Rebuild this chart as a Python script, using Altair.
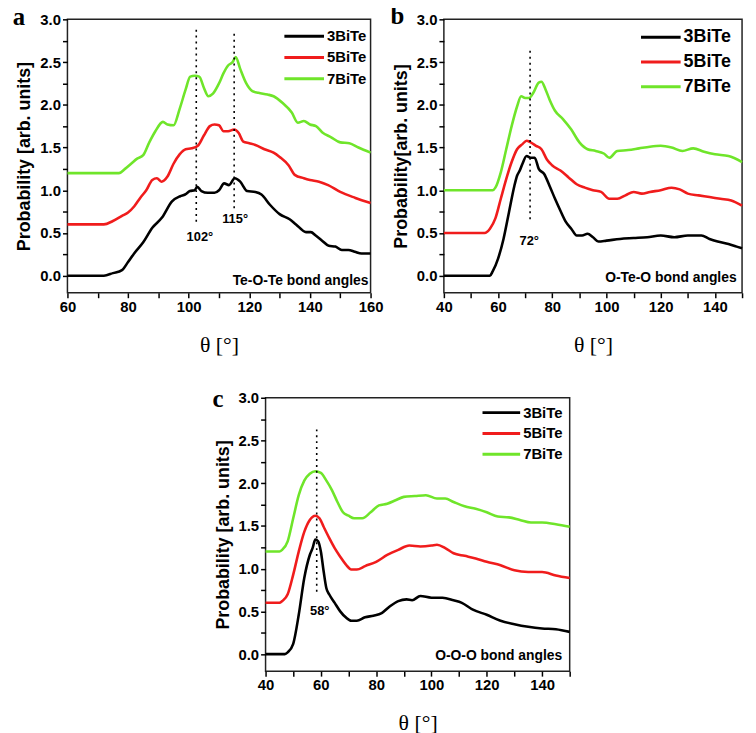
import altair as alt
import pandas as pd

SERIES = ["3BiTe", "5BiTe", "7BiTe"]
COLORS = ["#000000", "#f01c1c", "#6fe52a"]
SANS = "Liberation Sans"
SERIF = "Liberation Serif"

# ---------------- panel a : Te-O-Te ----------------
A3_X = [60,72,75,78,80,82,85,88,91.2,94.5,97.2,98.8,100.4,102,102.8,104.2,106.3,108.5,110,111.7,113.3,115.2,117,119.3,122,124,126.8,130,133.3,135.4,138.7,140.3,141.9,144,146.2,148.4,150.5,152.7,154.8,157,160]
A3_Y = [0,0,0.03,0.065,0.16,0.26,0.39,0.56,0.68,0.87,0.93,0.95,0.99,1.0,1.04,0.99,0.97,0.97,1.0,1.08,1.06,1.14,1.10,0.99,0.98,0.95,0.83,0.72,0.66,0.60,0.51,0.51,0.47,0.41,0.35,0.34,0.30,0.30,0.28,0.26,0.26]
A5_X = [60,72,75,78,80,82,84,86,88,89.5,91,93,95,97,99,101,103,105,107,108.5,110,111.5,113,115,116.5,118,120,122,125,128,130,133,135,138,140,143,146,150,155,160]
A5_Y = [0.6,0.6,0.64,0.70,0.74,0.81,0.91,1.0,1.12,1.14,1.10,1.16,1.31,1.42,1.48,1.49,1.52,1.64,1.75,1.77,1.76,1.69,1.69,1.71,1.67,1.57,1.55,1.53,1.48,1.44,1.39,1.29,1.18,1.14,1.12,1.10,1.06,0.98,0.91,0.85]
A7_X = [60,77,79,81,83,85,87,89,91.5,93,95,97,99,100.5,102,103.5,105,106.5,108,110,111.5,113,114.5,115.5,117,119,121,123,126,128,131,134,136,138,140,142,144,147,150,153,156,160]
A7_Y = [1.2,1.2,1.25,1.31,1.37,1.41,1.56,1.69,1.80,1.77,1.76,1.95,2.18,2.33,2.34,2.33,2.20,2.10,2.13,2.25,2.37,2.46,2.50,2.56,2.42,2.25,2.16,2.14,2.12,2.10,2.02,1.91,1.79,1.81,1.77,1.75,1.68,1.62,1.56,1.55,1.50,1.44]

# ---------------- panel b : O-Te-O ----------------
B3_X = [40,57,58,60,62,64,66,67,68,69,70.5,72,73.5,75,77,79,81,83,85,87,89,91,93,95,97,100,105,110,115,120,125,130,135,138,141,145,148,150]
B3_Y = [0,0,0.05,0.2,0.43,0.74,1.05,1.17,1.23,1.31,1.40,1.38,1.38,1.25,1.19,1.05,0.90,0.76,0.63,0.55,0.47,0.47,0.49,0.45,0.40,0.41,0.43,0.44,0.45,0.47,0.45,0.47,0.47,0.43,0.40,0.37,0.34,0.32]
B5_X = [40,55,57,59,61,63,65,67,69,70.5,72,74,76,78,80,83,86,89,92,95,98,101,104,107,110,113,116,120,124,127,130,134,138,142,146,150]
B5_Y = [0.5,0.5,0.55,0.67,0.9,1.13,1.33,1.48,1.54,1.58,1.56,1.52,1.48,1.36,1.29,1.23,1.15,1.07,1.03,1.00,0.98,0.90,0.90,0.94,0.98,0.96,0.98,1.00,1.03,1.01,0.96,0.94,0.92,0.90,0.88,0.82]
B7_X = [40,58,59,61,63,65,67,68.5,70,71.5,73,75,76,77.5,79,81,84,87,90,93,96,99,101,104,108,112,116,120,124,128,132,136,140,145,150]
B7_Y = [1.0,1.0,1.03,1.21,1.48,1.75,1.98,2.10,2.08,2.08,2.14,2.26,2.27,2.18,2.06,1.93,1.83,1.71,1.56,1.48,1.46,1.43,1.38,1.46,1.47,1.49,1.51,1.52,1.50,1.46,1.49,1.45,1.42,1.40,1.33]

# ---------------- panel c : O-O-O ----------------
C3_X = [40,47,48,50,52,54,56,57,58,59,60,61,62,63,65,67,69,71,73,76,79,82,85,88,91,93,96,100,104,108,111,115,120,125,130,135,140,145,150]
C3_Y = [0,0,0.02,0.12,0.46,0.89,1.16,1.24,1.34,1.32,1.20,0.97,0.77,0.70,0.60,0.50,0.43,0.39,0.39,0.43,0.45,0.48,0.56,0.62,0.64,0.63,0.68,0.66,0.66,0.63,0.60,0.52,0.46,0.39,0.35,0.32,0.30,0.29,0.26]
C5_X = [40,45,46,48,50,52,54,56,58,59.5,61,63,65,67,69,71,73,76,80,84,88,92,96,100,102,105,108,112,116,120,125,130,135,140,145,150]
C5_Y = [0.6,0.6,0.62,0.70,0.93,1.20,1.43,1.57,1.62,1.59,1.49,1.36,1.24,1.14,1.05,0.99,0.99,1.03,1.08,1.16,1.22,1.27,1.26,1.27,1.28,1.24,1.18,1.15,1.12,1.08,1.04,0.98,0.96,0.96,0.92,0.89]
C7_X = [40,45,46,48,50,52,54,56,58,60,62,64,66,68,70,72,75,78,81,84,87,90,94,98,102,105,108,112,116,120,124,128,132,136,140,145,150]
C7_Y = [1.2,1.2,1.22,1.32,1.59,1.86,2.03,2.11,2.14,2.12,2.03,1.92,1.78,1.66,1.62,1.59,1.59,1.66,1.74,1.76,1.80,1.84,1.85,1.86,1.82,1.82,1.78,1.73,1.70,1.66,1.61,1.60,1.57,1.54,1.54,1.52,1.49]

# axis ticks
Y_TICKS = [0, 0.25, 0.5, 0.75, 1.0, 1.25, 1.5, 1.75, 2.0, 2.25, 2.5, 2.75, 3.0]
A_XTICKS = [60, 70, 80, 90, 100, 110, 120, 130, 140, 150, 160]
BC_XTICKS = [40, 50, 60, 70, 80, 90, 100, 110, 120, 130, 140, 150]

# annotations: dotted guide lines (x, y-from, y-to) and peak labels
A_RULE_X = [102.5, 115.0]
A_RULE_Y1 = [0.63, 0.79]
A_RULE_Y2 = [2.88, 2.87]
A_LAB_X = [103.7, 115.3]
A_LAB_Y = [0.45, 0.66]
A_LAB_T = ["102°", "115°"]

B_RULE_X = [71.8]
B_RULE_Y1 = [0.66]
B_RULE_Y2 = [2.64]
B_LAB_X = [71.5]
B_LAB_Y = [0.40]
B_LAB_T = ["72°"]

C_RULE_X = [58.5]
C_RULE_Y1 = [0.73]
C_RULE_Y2 = [2.63]
C_LAB_X = [59.6]
C_LAB_Y = [0.50]
C_LAB_T = ["58°"]

BOND_TEXT = ["Te-O-Te bond angles", "O-Te-O bond angles", "O-O-O bond angles"]
BOND_X = [159.3, 148.0, 147.3]
BOND_Y = [-0.06, -0.03, -0.02]

Y_TITLES = ["Probability [arb. units]", "Probability[arb. units]", "Probability [arb. units]"]
LETTERS = ["a", "b", "c"]

# legend styling per panel: (line start px, line end px, first row px, row step px, font size)
LEGEND_STYLE = [(219, 259, 17, 21.5, 15), (199, 239, 18, 25, 18), (219, 257, 15, 21, 15)]


def series_df(xs_list, ys_list):
    rows = []
    for name, xs, ys in zip(SERIES, xs_list, ys_list):
        for x, y in zip(xs, ys):
            rows.append({"theta": x, "p": y, "series": name})
    return pd.DataFrame(rows)


def legend_layers(style):
    x0, x1, y0, dy, fs = style
    layers = []
    for i, (name, col) in enumerate(zip(SERIES, COLORS)):
        src = alt.Data(values=[{"name": name}])
        yy = y0 + i * dy
        layers.append(
            alt.Chart(src).mark_rule(strokeWidth=3, color=col).encode(
                x=alt.value(x0), x2=alt.value(x1), y=alt.value(yy)
            )
        )
        layers.append(
            alt.Chart(src).mark_text(
                font=SANS, fontSize=fs, fontWeight="bold", color="black", align="left", baseline="middle"
            ).encode(x=alt.value(x1 + 3), y=alt.value(yy), text="name:N")
        )
    return layers


def panel(df, xdom, xticks, ytitle, rule_x, rule_y1, rule_y2, lab_x, lab_y, lab_t,
          bond_t, bond_x, bond_y, letter, letter_dx, letter_dy, leg_style, width):
    x_enc = alt.X(
        "theta:Q",
        scale=alt.Scale(domain=xdom, nice=False, zero=False),
        axis=alt.Axis(
            values=xticks,
            labelExpr="datum.value % 20 == 0 ? datum.label : ''",
            title="θ [°]",
            titleFont=SERIF,
            titleFontSize=22,
            titleFontWeight="normal",
            titlePadding=20,
            tickSize=5,
            labelPadding=2,
        ),
    )
    y_enc = alt.Y(
        "p:Q",
        scale=alt.Scale(domain=[-0.2, 3.0], nice=False, zero=False),
        axis=alt.Axis(
            values=Y_TICKS,
            labelExpr="datum.value % 0.5 == 0 ? format(datum.value, '.1f') : ''",
            title=ytitle,
            titlePadding=6,
            tickSize=5,
            labelPadding=2,
        ),
    )
    lines = alt.Chart(df).mark_line(strokeWidth=2.6, interpolate="monotone").encode(
        x=x_enc,
        y=y_enc,
        color=alt.Color("series:N", scale=alt.Scale(domain=SERIES, range=COLORS), legend=None),
    )
    rule_df = pd.DataFrame({"theta": rule_x, "p": rule_y1, "p2": rule_y2})
    rules = alt.Chart(rule_df).mark_rule(strokeDash=[2, 4], strokeWidth=1.6, color="black").encode(
        x=x_enc, y=y_enc, y2="p2:Q"
    )
    lab_df = pd.DataFrame({"theta": lab_x, "p": lab_y, "label": lab_t})
    labels = alt.Chart(lab_df).mark_text(
        font=SANS, fontSize=13, fontWeight="bold", color="black", baseline="middle"
    ).encode(x=x_enc, y=y_enc, text="label:N")
    bond_df = pd.DataFrame({"theta": [bond_x], "p": [bond_y], "label": [bond_t]})
    bond = alt.Chart(bond_df).mark_text(
        font=SANS, fontSize=14, fontWeight="bold", color="black", align="right", baseline="middle"
    ).encode(x=x_enc, y=y_enc, text="label:N")
    let = alt.Chart(alt.Data(values=[{"t": letter}])).mark_text(
        font=SERIF, fontSize=25, fontWeight="bold", color="black", align="center", baseline="middle"
    ).encode(x=alt.value(letter_dx), y=alt.value(letter_dy), text="t:N")
    return alt.layer(lines, rules, labels, bond, let, *legend_layers(leg_style)).properties(
        width=width, height=276
    )


pa = panel(series_df([A3_X, A5_X, A7_X], [A3_Y, A5_Y, A7_Y]), [60, 160], A_XTICKS, Y_TITLES[0],
           A_RULE_X, A_RULE_Y1, A_RULE_Y2, A_LAB_X, A_LAB_Y, A_LAB_T,
           BOND_TEXT[0], BOND_X[0], BOND_Y[0], LETTERS[0], -49, -2, LEGEND_STYLE[0], 306)
pb = panel(series_df([B3_X, B5_X, B7_X], [B3_Y, B5_Y, B7_Y]), [40, 150], BC_XTICKS, Y_TITLES[1],
           B_RULE_X, B_RULE_Y1, B_RULE_Y2, B_LAB_X, B_LAB_Y, B_LAB_T,
           BOND_TEXT[1], BOND_X[1], BOND_Y[1], LETTERS[1], -47, -3, LEGEND_STYLE[1], 301)
pc = panel(series_df([C3_X, C5_X, C7_X], [C3_Y, C5_Y, C7_Y]), [40, 150], BC_XTICKS, Y_TITLES[2],
           C_RULE_X, C_RULE_Y1, C_RULE_Y2, C_LAB_X, C_LAB_Y, C_LAB_T,
           BOND_TEXT[2], BOND_X[2], BOND_Y[2], LETTERS[2], -48, 1, LEGEND_STYLE[2], 307)

spacer = alt.Chart(alt.Data(values=[{"t": ""}])).mark_text(opacity=0).encode(
    x=alt.value(50), y=alt.value(5), text="t:N"
).properties(width=144, height=10, view=alt.ViewBackground(stroke="transparent"))

top = alt.hconcat(pa, pb, spacing=5).resolve_scale(color="independent")
bottom = alt.hconcat(spacer, pc, spacing=0).resolve_scale(color="independent")

chart = (
    alt.vconcat(top, bottom, spacing=30)
    .resolve_scale(color="independent")
    .properties(padding={"left": 4, "top": -8, "right": 0, "bottom": 0}, background="white")
    .configure_view(stroke="#222222", strokeWidth=1.5)
    .configure_axis(
        labelFont=SANS,
        labelFontSize=15,
        labelFontWeight="bold",
        labelColor="black",
        titleFont=SANS,
        titleFontSize=18,
        titleFontWeight="bold",
        titleColor="black",
        domain=False,
        grid=False,
        tickColor="black",
        tickWidth=1.5,
        labelOverlap=False,
        labelFlush=False,
    )
)

chart.save("out.html", embed_options={"renderer": "svg", "actions": False})
